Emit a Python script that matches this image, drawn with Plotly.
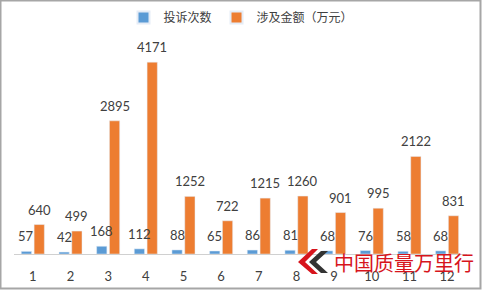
import plotly.graph_objects as go

months = ["1", "2", "3", "4", "5", "6", "7", "8", "9", "10", "11", "12"]
complaints = [57, 42, 168, 112, 88, 65, 86, 81, 68, 76, 58, 68]
amounts = [640, 499, 2895, 4171, 1252, 722, 1215, 1260, 901, 995, 2122, 831]
series_names = ["投诉次数", "涉及金额（万元）"]

W, H = 482, 290
L, R, T, B = 14, 15, 47, 36
pw, ph = W - L - R, H - T - B
BARGAP = 0.32

def px(x):
    return (x - L) / pw

def py(y):
    return (H - B - y) / ph

font = dict(family="Lato, 'Noto Sans CJK SC', sans-serif", size=12, color="#404040")

fig = go.Figure()
fig.add_trace(go.Bar(x=months, y=complaints, name=series_names[0], marker_color="#5B9BD5"))
fig.add_trace(go.Bar(x=months, y=amounts, name=series_names[1], marker_color="#ED7D31"))

# data labels above each bar
slot = (1 - BARGAP) / 2
for vals, off in ((complaints, -slot / 2), (amounts, slot / 2)):
    for i, v in enumerate(vals):
        fig.add_annotation(x=i + off, y=v, text=str(v), showarrow=False,
                           xref="x", yref="y", yanchor="bottom", yshift=5,
                           font=dict(size=13, color="#404040"))

fig.update_layout(
    width=W, height=H,
    margin=dict(l=L, r=R, t=T, b=B, autoexpand=False),
    paper_bgcolor="white", plot_bgcolor="white",
    font=font,
    barmode="group", bargap=BARGAP, bargroupgap=0.2,
    showlegend=True,
    legend=dict(orientation="h", x=0.5, xanchor="center", xref="container",
                y=1 - 3 / H, yanchor="top", yref="container",
                font=dict(family="'Noto Sans CJK SC', sans-serif", size=12, color="#404040"),
                itemwidth=30, tracegroupgap=0, itemsizing="constant"),
    xaxis=dict(showgrid=False, showline=True, linecolor="#d0d0d0", linewidth=1, automargin=False,
               ticks="", ticklabelstandoff=10, tickfont=dict(size=13, color="#404040")),
    yaxis=dict(range=[0, 4500], visible=False, showgrid=False, zeroline=False, automargin=False),
)

# outer frame
fig.add_shape(type="rect", xref="paper", yref="paper",
              x0=px(0.5), x1=px(W - 1.5), y0=py(H - 1.5), y1=py(0.5),
              line=dict(color="#a6a6a6", width=2), fillcolor="rgba(0,0,0,0)", layer="above")

# watermark
fig.add_shape(type="path", xref="paper", yref="paper",
              path=f"M {px(321)},{py(251)} L {px(309)},{py(262)} L {px(321)},{py(273)} L {px(328)},{py(273)} L {px(316)},{py(262)} L {px(328)},{py(251)} Z",
              fillcolor="#333333", line=dict(width=0), layer="above")
fig.add_shape(type="path", xref="paper", yref="paper",
              path=f"M {px(312)},{py(249)} L {px(298)},{py(262)} L {px(312)},{py(274)} L {px(318)},{py(274)} L {px(305)},{py(262)} L {px(318)},{py(249)} Z",
              fillcolor="#d7141c", line=dict(width=0), layer="above")
fig.add_annotation(text="中国质量万里行", xref="paper", yref="paper",
                   x=px(332), y=py(262), xanchor="left", yanchor="middle", showarrow=False,
                   font=dict(family="'Noto Sans CJK SC'", size=20, color="#d7141c"))

fig.write_html("out.html")
